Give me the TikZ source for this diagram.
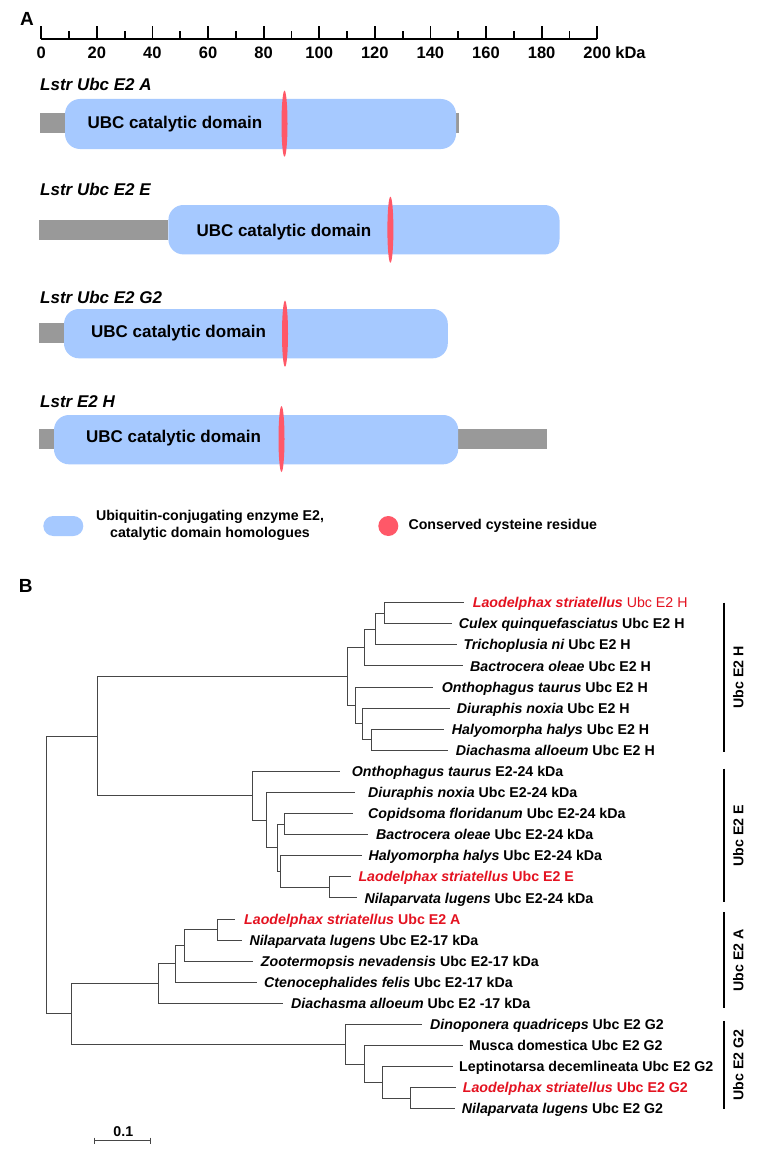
\documentclass[tikz,border=0pt]{standalone}
\usepackage{fontspec}
\setmainfont{Liberation Sans}
\usetikzlibrary{positioning}

\definecolor{ubcblue}{RGB}{166,201,255}
\definecolor{linkgray}{RGB}{153,153,153}
\definecolor{cysred}{RGB}{255,88,104}
\definecolor{lsred}{RGB}{228,18,32}
\definecolor{treegray}{RGB}{70,70,70}

\tikzset{
  leaf/.style={anchor=west,inner sep=0pt,text height=10.2pt,text depth=0pt,
    font=\fontsize{14.2}{17}\selectfont\bfseries},
  lsleaf/.style={leaf,text=lsred},
  branch/.style={line width=1pt,draw=treegray},
  cladebar/.style={line width=1.3pt,draw=black},
  cladelab/.style={rotate=90,inner sep=0pt,text height=10.2pt,text depth=0pt,
    font=\fontsize{14.2}{17}\selectfont\bfseries},
  protlab/.style={anchor=west,inner sep=0pt,text height=12.2pt,text depth=0pt,
    font=\fontsize{17}{20}\selectfont\bfseries\itshape},
  domtext/.style={anchor=west,inner sep=0pt,text height=12.2pt,text depth=0pt,
    font=\fontsize{17}{20}\selectfont\bfseries},
  ticklab/.style={inner sep=0pt,text height=11.8pt,text depth=0pt,
    font=\fontsize{16.5}{19}\selectfont\bfseries},
  panel/.style={inner sep=0pt,text height=13.6pt,text depth=0pt,
    font=\fontsize{19}{22}\selectfont\bfseries},
  axisline/.style={line width=1.8pt,draw=black},
}

\begin{document}
\begin{tikzpicture}[x=1pt,y=-1pt]
	\path[fill=white] (0,0) rectangle (758,1153);
	\node[panel] (panelA) at (27,18.3) {A};
	\node[panel] (panelB) at (25.8,586) {B};
	% size axis
	\draw[axisline] (41.2,39) -- (597.2,39);
	\foreach \k in {10,30,...,190}
		\draw[axisline] ({41.2+2.78*\k},39) -- ({41.2+2.78*\k},31);
	\foreach \k in {0,20,...,200} {
		\draw[axisline] ({41.2+2.78*\k},39) -- ({41.2+2.78*\k},26);
		\node[ticklab] (t\k) at ({41.2+2.78*\k},52.3) {\k};
	}
	\node[ticklab,right=4pt of t200] (kda) {kDa};
	% domain maps
	\begin{scope}[every path/.style={}]
	\node[protlab] (pA) at (40,84) {Lstr Ubc E2 A};
	\fill[linkgray] (40.2,113.5) rectangle (459.2,133.5);
	\fill[ubcblue,rounded corners=15pt] (65,99) rectangle (456,149);
	\fill[cysred] (284.5,123.7) ellipse [x radius=3pt,y radius=33pt];
	\node[domtext] (dA) at (87.3,122.7) {UBC catalytic domain};
	\node[protlab] (pE) at (40,189.5) {Lstr Ubc E2 E};
	\fill[linkgray] (39.4,219.7) rectangle (168.4,239.7);
	\fill[ubcblue,rounded corners=15pt] (168.4,205) rectangle (559.5,254.4);
	\fill[cysred] (390.4,229.7) ellipse [x radius=3pt,y radius=33pt];
	\node[domtext] (dE) at (196.3,230) {UBC catalytic domain};
	\node[protlab] (pG) at (40,297) {Lstr Ubc E2 G2};
	\fill[linkgray] (39.4,323.4) rectangle (64,343.4);
	\fill[ubcblue,rounded corners=15pt] (64,309) rectangle (447.8,358.3);
	\fill[cysred] (285,333.7) ellipse [x radius=3pt,y radius=33pt];
	\node[domtext] (dG) at (91,331.7) {UBC catalytic domain};
	\node[protlab] (pH) at (40,401.5) {Lstr E2 H};
	\fill[linkgray] (39.4,429.3) rectangle (546.6,449.3);
	\fill[ubcblue,rounded corners=15pt] (54,415) rectangle (458.2,464.3);
	\fill[cysred] (281.5,439) ellipse [x radius=3pt,y radius=33pt];
	\node[domtext] (dH) at (86,436.7) {UBC catalytic domain};
	\end{scope}
	% legend
	\fill[ubcblue,rounded corners=10pt] (43.3,516) rectangle (83.3,536);
	\node[align=center,inner sep=0pt,font=\fontsize{14.2}{17.3}\selectfont\bfseries] (legdom) at (210,525.5)
		{Ubiquitin-conjugating enzyme E2,\\catalytic domain homologues};
	\fill[cysred] (388.3,526) circle [radius=10pt];
	\node[anchor=west,inner sep=0pt,font=\fontsize{14.2}{17}\selectfont\bfseries] (legcys) at (408.3,525.5)
		{Conserved cysteine residue};
	% tree leaves
	\node[lsleaf] (l1) at (472.7,602.6) {\textit{Laodelphax striatellus} {\mdseries Ubc E2 H}};
	\node[leaf] (l2) at (458.7,623.7) {\textit{Culex quinquefasciatus} Ubc E2 H};
	\node[leaf] (l3) at (463.3,644.8) {\textit{Trichoplusia ni} Ubc E2 H};
	\node[leaf] (l4) at (470,665.9) {\textit{Bactrocera oleae} Ubc E2 H};
	\node[leaf] (l5) at (441.7,687) {\textit{Onthophagus taurus} Ubc E2 H};
	\node[leaf] (l6) at (456.7,708.1) {\textit{Diuraphis noxia} Ubc E2 H};
	\node[leaf] (l7) at (451.7,729.1) {\textit{Halyomorpha halys} Ubc E2 H};
	\node[leaf] (l8) at (455.7,750.2) {\textit{Diachasma alloeum} Ubc E2 H};
	\node[leaf] (l9) at (351.7,771.3) {\textit{Onthophagus taurus} E2-24 kDa};
	\node[leaf] (l10) at (368,792.4) {\textit{Diuraphis noxia} Ubc E2-24 kDa};
	\node[leaf] (l11) at (368,813.5) {\textit{Copidsoma floridanum} Ubc E2-24 kDa};
	\node[leaf] (l12) at (376,834.6) {\textit{Bactrocera oleae} Ubc E2-24 kDa};
	\node[leaf] (l13) at (368.3,855.7) {\textit{Halyomorpha halys} Ubc E2-24 kDa};
	\node[lsleaf] (l14) at (358.3,876.8) {\textit{Laodelphax striatellus} Ubc E2 E};
	\node[leaf] (l15) at (364.3,897.9) {\textit{Nilaparvata lugens} Ubc E2-24 kDa};
	\node[lsleaf] (l16) at (244,919) {\textit{Laodelphax striatellus} Ubc E2 A};
	\node[leaf] (l17) at (249.3,940) {\textit{Nilaparvata lugens} Ubc E2-17 kDa};
	\node[leaf] (l18) at (260.7,961.1) {\textit{Zootermopsis nevadensis} Ubc E2-17 kDa};
	\node[leaf] (l19) at (264,982.2) {\textit{Ctenocephalides felis} Ubc E2-17 kDa};
	\node[leaf] (l20) at (291,1003.3) {\textit{Diachasma alloeum} Ubc E2 -17 kDa};
	\node[leaf] (l21) at (430,1024.4) {\textit{Dinoponera quadriceps} Ubc E2 G2};
	\node[leaf] (l22) at (469,1045.5) {Musca domestica Ubc E2 G2};
	\node[leaf] (l23) at (459,1066.6) {Leptinotarsa decemlineata Ubc E2 G2};
	\node[lsleaf] (l24) at (462.7,1087.7) {\textit{Laodelphax striatellus} Ubc E2 G2};
	\node[leaf] (l25) at (461.7,1108.8) {\textit{Nilaparvata lugens} Ubc E2 G2};
	% branch tips
	\coordinate (e1) at (464.3,602.6);
	\coordinate (e2) at (451.7,623.7);
	\coordinate (e3) at (456.7,644.8);
	\coordinate (e4) at (463.3,665.9);
	\coordinate (e5) at (433.3,687);
	\coordinate (e6) at (450,708.1);
	\coordinate (e7) at (444,729.1);
	\coordinate (e8) at (447.7,750.2);
	\coordinate (e9) at (340,771.3);
	\coordinate (e10) at (355,792.4);
	\coordinate (e11) at (353,813.5);
	\coordinate (e12) at (367.7,834.6);
	\coordinate (e13) at (361.7,855.7);
	\coordinate (e14) at (350.7,876.8);
	\coordinate (e15) at (357.3,897.9);
	\coordinate (e16) at (235,919);
	\coordinate (e17) at (241.7,940);
	\coordinate (e18) at (252.7,961.1);
	\coordinate (e19) at (256.7,982.2);
	\coordinate (e20) at (282.7,1003.3);
	\coordinate (e21) at (421.7,1024.4);
	\coordinate (e22) at (463.3,1045.5);
	\coordinate (e23) at (453.3,1066.6);
	\coordinate (e24) at (456,1087.7);
	\coordinate (e25) at (455,1108.8);
	% inner nodes
	\coordinate (root) at (46,875);
	\coordinate (HE) at (97.5,736.1);
	\coordinate (AG) at (71.7,1013.9);
	\coordinate (H) at (347,676.5);
	\coordinate (Ha) at (364,647.5);
	\coordinate (Hb) at (375,629);
	\coordinate (Hc) at (384.5,613.2);
	\coordinate (Hd) at (355.5,705.5);
	\coordinate (He) at (362.5,723.9);
	\coordinate (Hf) at (371,739.7);
	\coordinate (E) at (252.7,795.7);
	\coordinate (Eg) at (266,820.1);
	\coordinate (Eh) at (277,847.8);
	\coordinate (Ei) at (284,824.1);
	\coordinate (Ej) at (280.5,871.6);
	\coordinate (Ek) at (329.5,887.4);
	\coordinate (A) at (158.3,983.5);
	\coordinate (Al) at (175,963.8);
	\coordinate (Am) at (184.3,945.3);
	\coordinate (An) at (217,929.5);
	\coordinate (G) at (345,1044.2);
	\coordinate (Go) at (364.3,1064);
	\coordinate (Gp) at (382.7,1082.4);
	\coordinate (Gq) at (410,1098.2);
	% branches
	\draw[branch] (root) |- (HE) (root) |- (AG);
	\draw[branch] (HE) |- (H) (HE) |- (E);
	\draw[branch] (H) |- (Ha) (H) |- (Hd);
	\draw[branch] (Ha) |- (Hb) (Ha) |- (e4);
	\draw[branch] (Hb) |- (Hc) (Hb) |- (e3);
	\draw[branch] (Hc) |- (e1) (Hc) |- (e2);
	\draw[branch] (Hd) |- (e5) (Hd) |- (He);
	\draw[branch] (He) |- (e6) (He) |- (Hf);
	\draw[branch] (Hf) |- (e7) (Hf) |- (e8);
	\draw[branch] (E) |- (e9) (E) |- (Eg);
	\draw[branch] (Eg) |- (e10) (Eg) |- (Eh);
	\draw[branch] (Eh) |- (Ei) (Eh) |- (Ej);
	\draw[branch] (Ei) |- (e11) (Ei) |- (e12);
	\draw[branch] (Ej) |- (e13) (Ej) |- (Ek);
	\draw[branch] (Ek) |- (e14) (Ek) |- (e15);
	\draw[branch] (AG) |- (A) (AG) |- (G);
	\draw[branch] (A) |- (Al) (A) |- (e20);
	\draw[branch] (Al) |- (Am) (Al) |- (e19);
	\draw[branch] (Am) |- (An) (Am) |- (e18);
	\draw[branch] (An) |- (e16) (An) |- (e17);
	\draw[branch] (G) |- (e21) (G) |- (Go);
	\draw[branch] (Go) |- (e22) (Go) |- (Gp);
	\draw[branch] (Gp) |- (e23) (Gp) |- (Gq);
	\draw[branch] (Gq) |- (e24) (Gq) |- (e25);
	% clade bars
	\coordinate (bH1) at (724,602.6);
	\coordinate (bH2) at (724,752.3);
	\coordinate (bE1) at (724,768.5);
	\coordinate (bE2) at (724,902.4);
	\coordinate (bA1) at (724,912);
	\coordinate (bA2) at (724,1008.3);
	\coordinate (bG1) at (724,1020.9);
	\coordinate (bG2) at (724,1108.8);
	\draw[cladebar] (bH1) -- (bH2);
	\draw[cladebar] (bE1) -- (bE2);
	\draw[cladebar] (bA1) -- (bA2);
	\draw[cladebar] (bG1) -- (bG2);
	\node[cladelab] (cH) at (738.3,677.5) {Ubc E2 H};
	\node[cladelab] (cE) at (738.3,835.5) {Ubc E2 E};
	\node[cladelab] (cA) at (738.3,960.2) {Ubc E2 A};
	\node[cladelab] (cG) at (738.3,1064.9) {Ubc E2 G2};
	% scale bar
	\coordinate (s1) at (94,1140.7);
	\coordinate (s2) at (150.7,1140.7);
	\draw[branch] (s1) -- (s2);
	\draw[branch] ([yshift=3pt]s1) -- ([yshift=-3pt]s1);
	\draw[branch] ([yshift=3pt]s2) -- ([yshift=-3pt]s2);
	\node[inner sep=0pt,text height=10.2pt,text depth=0pt,font=\fontsize{14.2}{17}\selectfont\bfseries] (sbar) at (123.3,1131.7) {0.1};
\end{tikzpicture}
\end{document}
